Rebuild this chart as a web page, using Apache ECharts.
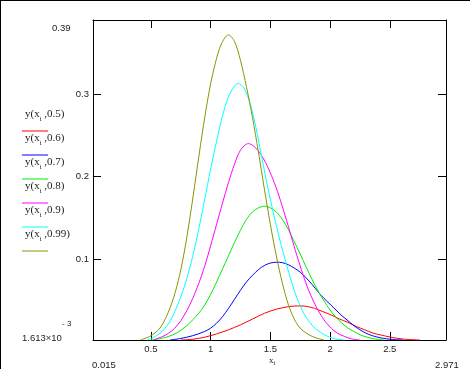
<!DOCTYPE html>
<html>
<head>
<meta charset="utf-8">
<script src="https://cdn.jsdelivr.net/npm/echarts@6/dist/echarts.min.js"></script>
<style>
html,body{margin:0;padding:0;background:#fff;}
#c{position:absolute;left:0;top:0;width:470px;height:369px;}
#frame{position:absolute;left:0;top:0;width:470px;height:369px;box-sizing:border-box;border-left:1px solid #000;border-top:1px solid #000;pointer-events:none;}
</style>
</head>
<body>
<div id="c"></div>
<div id="frame"></div>
<script>
// ---- data (x positions and values per trace) ----
const x05  = [0.75,0.85,0.95,1.05,1.15,1.25,1.35,1.45,1.55,1.65,1.73,1.80,1.87,1.94,2.01,2.08,2.15,2.22,2.29,2.36,2.43,2.50,2.57,2.64,2.75];
const y05  = [0.0016,0.0025,0.005,0.009,0.014,0.020,0.027,0.034,0.039,0.042,0.043,0.0425,0.040,0.036,0.032,0.027,0.023,0.018,0.014,0.010,0.0075,0.0053,0.0035,0.0024,0.0016];
const x06  = [0.66,0.75,0.85,0.95,1.00,1.05,1.10,1.15,1.20,1.25,1.30,1.35,1.40,1.45,1.50,1.555,1.60,1.65,1.70,1.75,1.80,1.85,1.90,1.95,2.00,2.05,2.10,2.15,2.20,2.25,2.30,2.35,2.40,2.45,2.50,2.55,2.61];
const y06  = [0.0016,0.0035,0.0068,0.012,0.016,0.022,0.030,0.040,0.051,0.062,0.072,0.080,0.087,0.092,0.095,0.096,0.0955,0.093,0.089,0.084,0.077,0.069,0.060,0.052,0.045,0.038,0.031,0.025,0.019,0.014,0.010,0.007,0.005,0.0035,0.0026,0.002,0.0016];
const x07  = [0.50,0.60,0.70,0.80,0.90,0.95,1.00,1.05,1.10,1.15,1.20,1.25,1.30,1.35,1.40,1.454,1.50,1.55,1.60,1.65,1.70,1.75,1.80,1.85,1.90,1.95,2.00,2.05,2.10,2.15,2.20,2.25,2.30,2.35,2.40,2.45];
const y07  = [0.0016,0.004,0.009,0.019,0.034,0.044,0.057,0.072,0.088,0.104,0.120,0.135,0.148,0.157,0.162,0.164,0.162,0.157,0.148,0.136,0.121,0.106,0.090,0.075,0.061,0.049,0.038,0.029,0.022,0.016,0.012,0.008,0.0055,0.0037,0.0024,0.0016];
const x08  = [0.52,0.60,0.65,0.70,0.75,0.80,0.85,0.90,0.95,1.00,1.05,1.10,1.15,1.20,1.25,1.316,1.36,1.41,1.46,1.51,1.56,1.61,1.66,1.71,1.76,1.81,1.86,1.91,1.96,2.01,2.06,2.12,2.18,2.25];
const y08  = [0.0016,0.006,0.010,0.016,0.025,0.037,0.052,0.070,0.091,0.116,0.142,0.168,0.193,0.215,0.232,0.240,0.237,0.229,0.217,0.201,0.182,0.159,0.135,0.110,0.087,0.066,0.049,0.035,0.024,0.016,0.010,0.006,0.003,0.0016];
const x09  = [0.47,0.55,0.60,0.65,0.70,0.75,0.80,0.85,0.90,0.95,1.00,1.05,1.10,1.15,1.20,1.232,1.28,1.33,1.38,1.43,1.48,1.53,1.58,1.63,1.68,1.73,1.78,1.83,1.88,1.93,1.98,2.04,2.12];
const y09  = [0.0016,0.007,0.013,0.022,0.036,0.054,0.076,0.103,0.136,0.172,0.209,0.243,0.274,0.297,0.310,0.313,0.307,0.289,0.259,0.222,0.186,0.153,0.123,0.096,0.071,0.050,0.034,0.023,0.015,0.010,0.006,0.003,0.0016];
const x099 = [0.41,0.49,0.57,0.63,0.69,0.74,0.79,0.84,0.89,0.94,0.99,1.04,1.09,1.148,1.20,1.25,1.30,1.35,1.40,1.45,1.50,1.55,1.60,1.65,1.70,1.75,1.80,1.85,1.90,1.95];
const y099 = [0.0016,0.006,0.015,0.030,0.053,0.080,0.117,0.163,0.213,0.262,0.305,0.338,0.361,0.372,0.364,0.341,0.309,0.272,0.230,0.185,0.142,0.104,0.071,0.045,0.027,0.016,0.010,0.006,0.0035,0.0016];
const seriesParams = ['0.5','0.6','0.7','0.8','0.9','0.99'];
const seriesColors = ['#ff0000','#0000ff','#00ee00','#ff00ff','#00ffff','#8a9400'];
const xTicks = [0.5,1,1.5,2,2.5];
const yTicks = [0.1,0.2,0.3];
const xMin = 0.015, xMax = 2.971, yMin = 0.001613, yMax = 0.39;
const xMinLabel = '0.015', xMaxLabel = '2.971', yMaxLabel = '0.39', yMinMant = '1.613×10', yMinExp = '- 3';

const allX = [x05,x06,x07,x08,x09,x099];
const allY = [y05,y06,y07,y08,y09,y099];
const chart = echarts.init(document.getElementById('c'), null, {renderer:'canvas'});
const sans = 'Liberation Sans, Arial, sans-serif';
const serif = 'Liberation Serif, Times New Roman, serif';
const lblColor = '#222';

const series = allY.map((ys,k)=>({
  type:'line',
  name:seriesParams[k],
  data:allX[k].map((x,i)=>[x,ys[i]]),
  showSymbol:false,
  smooth:0.3,
  lineStyle:{width:1,color:seriesColors[k]},
  itemStyle:{color:seriesColors[k]},
  animation:false
}));

const axisCommon = {
  type:'value',
  axisLine:{show:true,lineStyle:{color:'#000',width:1}},
  splitLine:{show:false}
};

const graphics = [];
const legendTop = 117, legendStep = 24, lineOff = 14;
seriesParams.forEach((p,k)=>{
  graphics.push({
    type:'text', left:25, top:legendTop + legendStep*k - 8,
    style:{
      text:'{n|y(x}{s|i}{n| ,' + p + ')}',
      rich:{
        n:{fontFamily:serif,fontSize:11,fill:lblColor,lineHeight:16},
        s:{fontFamily:serif,fontSize:7,fill:lblColor,lineHeight:10,verticalAlign:'bottom'}
      }
    }
  });
  graphics.push({
    type:'line',
    shape:{x1:22,y1:legendTop+lineOff+legendStep*k,x2:48,y2:legendTop+lineOff+legendStep*k},
    style:{stroke:seriesColors[k],lineWidth:1}
  });
});
graphics.push({type:'text',left:52,top:23,style:{text:yMaxLabel,fontFamily:sans,fontSize:9.5,fill:lblColor}});
graphics.push({type:'text',left:22,top:333,style:{text:yMinMant,fontFamily:sans,fontSize:9.5,fill:lblColor}});
graphics.push({type:'text',left:62,top:320,style:{text:yMinExp,fontFamily:sans,fontSize:8,fill:lblColor}});
graphics.push({type:'text',left:92,top:360,style:{text:xMinLabel,fontFamily:sans,fontSize:9.5,fill:lblColor}});
graphics.push({type:'text',left:435,top:360,style:{text:xMaxLabel,fontFamily:sans,fontSize:9.5,fill:lblColor}});
graphics.push({type:'text',left:269,top:356,style:{
  text:'{n|x}{s|i}',
  rich:{n:{fontFamily:serif,fontSize:9,fill:lblColor,lineHeight:12},
        s:{fontFamily:serif,fontSize:6,fill:lblColor,lineHeight:8,verticalAlign:'bottom'}}
}});

chart.setOption({
  animation:false,
  backgroundColor:'#fff',
  grid:{left:93,top:20,right:24,bottom:29,containLabel:false},
  xAxis:[
    Object.assign({},axisCommon,{
      position:'bottom',min:xMin,max:xMax,
      axisTick:{show:true,inside:true,length:8,lineStyle:{color:'#000'},customValues:xTicks},
      axisLabel:{show:true,margin:4,fontFamily:sans,fontSize:9.5,color:lblColor,customValues:xTicks,
        formatter:v=>String(+v.toFixed(3))}
    }),
    Object.assign({},axisCommon,{
      position:'top',min:xMin,max:xMax,
      axisTick:{show:true,inside:true,length:8,lineStyle:{color:'#000'},customValues:xTicks},
      axisLabel:{show:false}
    })
  ],
  yAxis:[
    Object.assign({},axisCommon,{
      position:'left',min:yMin,max:yMax,
      axisTick:{show:true,inside:true,length:8,lineStyle:{color:'#000'},customValues:yTicks},
      axisLabel:{show:true,margin:4,fontFamily:sans,fontSize:9.5,color:lblColor,customValues:yTicks,
        formatter:v=>String(+v.toFixed(3))}
    }),
    Object.assign({},axisCommon,{
      position:'right',min:yMin,max:yMax,
      axisTick:{show:true,inside:true,length:8,lineStyle:{color:'#000'},customValues:yTicks},
      axisLabel:{show:false}
    })
  ],
  series:series,
  graphic:graphics
});
</script>
</body>
</html>
